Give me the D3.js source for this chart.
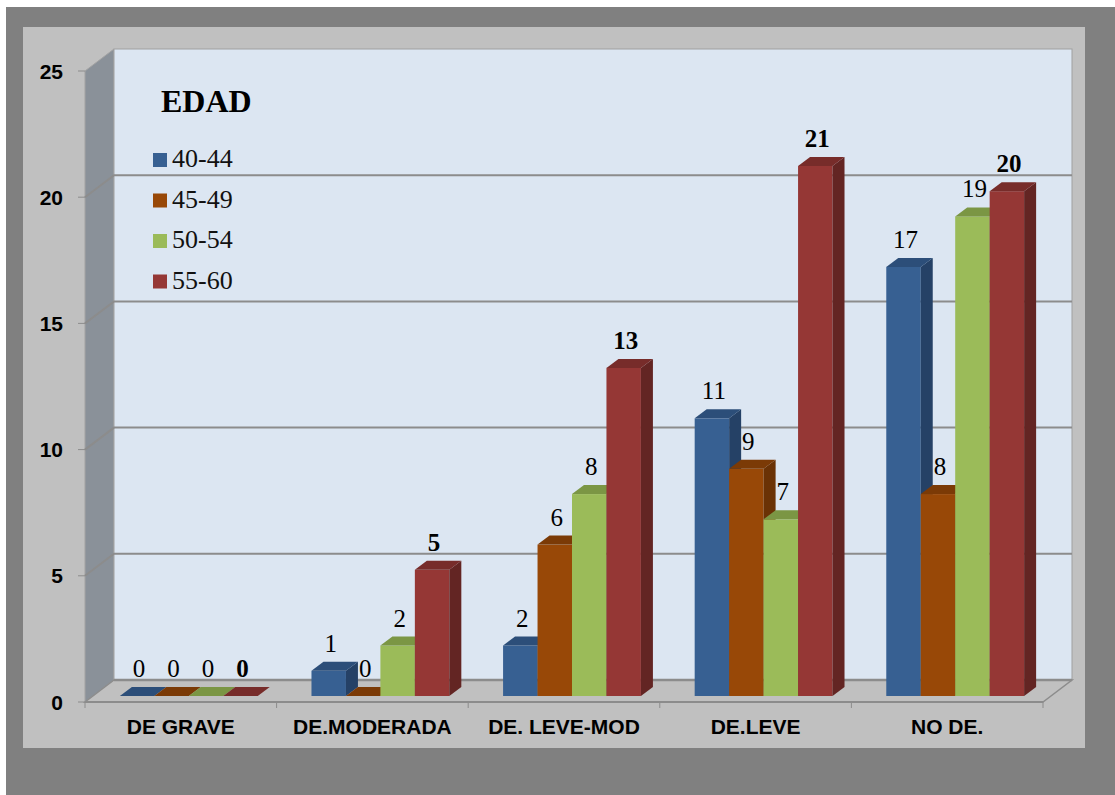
<!DOCTYPE html>
<html>
<head>
<meta charset="utf-8">
<script src="https://cdn.jsdelivr.net/npm/d3@7"></script>
<style>
  html, body { margin: 0; padding: 0; background: #ffffff; }
  svg { display: block; }
  .sans { font-family: "Liberation Sans", Arial, sans-serif; font-weight: bold; }
  .serif { font-family: "Liberation Serif", "Times New Roman", "DejaVu Serif", serif; }
</style>
</head>
<body>
<svg id="chart" width="1115" height="795"></svg>
<script>
// chart data
const categories = ["DE GRAVE", "DE.MODERADA", "DE. LEVE-MOD", "DE.LEVE", "NO DE."];
const seriesNames = ["40-44", "45-49", "50-54", "55-60"];
const values4044 = [0, 1, 2, 11, 17];
const values4549 = [0, 0, 6, 9, 8];
const values5054 = [0, 2, 8, 7, 19];
const values5560 = [0, 5, 13, 21, 20];
const yTicks = [0, 5, 10, 15, 20, 25];
const legendTitle = "EDAD";

const seriesValues = [values4044, values4549, values5054, values5560];

// face colours: front, top, side
const palette = [
  { front: "#376092", top: "#2c4e79", side: "#254166" },
  { front: "#984807", top: "#7b3a06", side: "#6a3205" },
  { front: "#9bbb59", top: "#7b9644", side: "#6c8a3a" },
  { front: "#953735", top: "#772c2a", side: "#632523" }
];

const svg = d3.select("#chart");

// frame
svg.append("rect").attr("x", 6).attr("y", 7).attr("width", 1109).attr("height", 788).attr("fill", "#808080");
svg.append("rect").attr("x", 23).attr("y", 27).attr("width", 1062).attr("height", 721).attr("fill", "#c0c0c0");

// front plane of the 3D box
const x0 = 85, x1 = 1043;
const depthX = 29, depthY = -22;   // front -> back wall offset
const barShiftX = 8, barShiftY = -6; // bars sit slightly behind the front edge
const barDX = 12, barDY = -9;      // bar thickness

const x = d3.scaleBand().domain(categories).range([x0, x1]).padding(0);
const xs = d3.scaleBand().domain(seriesNames).range([0, x.bandwidth()]).paddingInner(0).paddingOuter(0.78);
const y = d3.scaleLinear().domain([0, 25]).range([702, 71]);

const line = pts => "M" + pts.map(p => p.join(",")).join("L") + "Z";

// side wall
svg.append("path")
  .attr("d", line([[x0, y(25)], [x0 + depthX, y(25) + depthY], [x0 + depthX, y(0) + depthY], [x0, y(0)]]))
  .attr("fill", "#8a9199")
  .attr("stroke", "#a3a3a3")
  .attr("stroke-width", 1);

// back wall
svg.append("rect")
  .attr("x", x0 + depthX)
  .attr("y", y(25) + depthY)
  .attr("width", x1 - x0)
  .attr("height", y(0) - y(25))
  .attr("fill", "#dce6f2")
  .attr("stroke", "#a0a0a0")
  .attr("stroke-width", 1);

// floor
svg.append("path")
  .attr("d", line([[x0, y(0)], [x0 + depthX, y(0) + depthY], [x1 + depthX, y(0) + depthY], [x1, y(0)]]))
  .attr("fill", "#c0c0c0")
  .attr("stroke", "#8c8c8c")
  .attr("stroke-width", 1.5);

// gridlines on back wall + side wall
yTicks.filter(t => t > 0 && t < 25).forEach(t => {
  svg.append("path")
    .attr("d", `M${x0},${y(t)}L${x0 + depthX},${y(t) + depthY}L${x1 + depthX},${y(t) + depthY}`)
    .attr("fill", "none")
    .attr("stroke", "#8c8c8c")
    .attr("stroke-width", 2);
});
svg.append("line")
  .attr("x1", x0 + depthX).attr("x2", x1 + depthX)
  .attr("y1", y(0) + depthY).attr("y2", y(0) + depthY)
  .attr("stroke", "#8c8c8c").attr("stroke-width", 2.5);

// y axis ticks + labels
yTicks.forEach(t => {
  svg.append("line")
    .attr("x1", x0 - 7).attr("x2", x0)
    .attr("y1", y(t)).attr("y2", y(t))
    .attr("stroke", "#8c8c8c").attr("stroke-width", 1);
  svg.append("text")
    .attr("class", "sans")
    .attr("x", 63)
    .attr("y", y(t))
    .attr("dy", "0.36em")
    .attr("text-anchor", "end")
    .attr("font-size", 21)
    .text(t);
});

// category ticks + labels
const edges = categories.map(c => x(c)).concat([x1]);
edges.forEach(e => {
  svg.append("line")
    .attr("x1", e).attr("x2", e)
    .attr("y1", y(0)).attr("y2", y(0) + 6)
    .attr("stroke", "#8c8c8c").attr("stroke-width", 1);
});
svg.append("line")
  .attr("x1", x0).attr("x2", x1).attr("y1", y(0)).attr("y2", y(0))
  .attr("stroke", "#8c8c8c").attr("stroke-width", 2);

categories.forEach(c => {
  svg.append("text")
    .attr("class", "sans")
    .attr("x", x(c) + x.bandwidth() / 2)
    .attr("y", 734)
    .attr("text-anchor", "middle")
    .attr("font-size", 21)
    .text(c);
});

// bars
const labels = [];
categories.forEach((c, ci) => {
  seriesNames.forEach((s, si) => {
    const v = seriesValues[si][ci];
    const col = palette[si];
    const bx = x(c) + xs(s) + barShiftX;
    const bw = xs.bandwidth();
    const yb = y(0) + barShiftY;
    const yt = y(v) + barShiftY;
    const g = svg.append("g");
    if (v > 0) {
      g.append("rect")
        .attr("x", bx).attr("y", yt)
        .attr("width", bw).attr("height", yb - yt)
        .attr("fill", col.front);
      g.append("path")
        .attr("d", line([[bx + bw, yt], [bx + bw + barDX, yt + barDY], [bx + bw + barDX, yb + barDY], [bx + bw, yb]]))
        .attr("fill", col.side);
    }
    g.append("path")
      .attr("d", line([[bx, yt], [bx + barDX, yt + barDY], [bx + bw + barDX, yt + barDY], [bx + bw, yt]]))
      .attr("fill", col.top);
    labels.push({ x: bx + bw / 2 + 2, y: yt - 19, v: v, bold: si === 3 });
  });
});

// data labels
labels.forEach(d => {
  svg.append("text")
    .attr("class", "serif")
    .attr("x", d.x)
    .attr("y", d.y)
    .attr("text-anchor", "middle")
    .style("font-weight", d.bold ? "bold" : "normal")
    .attr("font-size", 25)
    .attr("fill", "#000")
    .text(d.v);
});

// legend
svg.append("text")
  .attr("class", "serif")
  .attr("x", 161).attr("y", 112)
  .style("font-weight", "bold")
  .attr("font-size", 32)
  .text(legendTitle);

seriesNames.forEach((s, i) => {
  const base = 167 + i * 40.5;
  svg.append("rect")
    .attr("x", 153).attr("y", base - 14)
    .attr("width", 14).attr("height", 14)
    .attr("fill", palette[i].front);
  svg.append("text")
    .attr("class", "serif")
    .attr("x", 172).attr("y", base)
    .attr("font-size", 26)
    .attr("fill", "#111")
    .text(s);
});
</script>
</body>
</html>
